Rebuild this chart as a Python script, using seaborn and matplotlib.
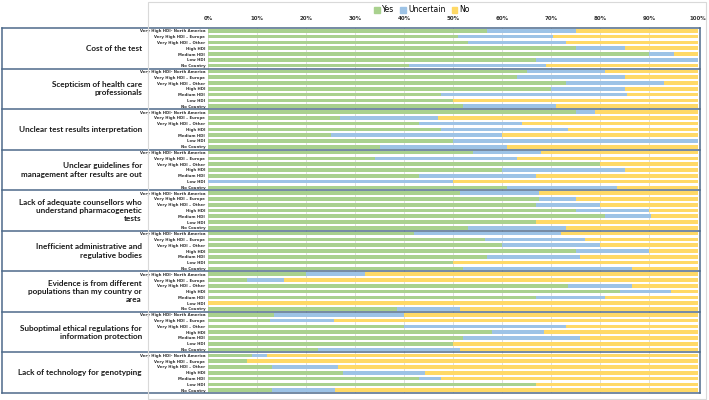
import numpy as np
import pandas as pd
import matplotlib
matplotlib.use('Agg')
import matplotlib.pyplot as plt
from matplotlib.patches import Patch, Rectangle
from matplotlib.ticker import PercentFormatter
from matplotlib.transforms import blended_transform_factory
import seaborn as sns

# barriers (groups) and region rows
groups = [
    "Cost of the test",
    "Scepticism of health care\nprofessionals",
    "Unclear test results interpretation",
    "Unclear guidelines for\nmanagement after results are out",
    "Lack of adequate counsellors who\nunderstand pharmacogenetic\ntests",
    "Inefficient administrative and\nregulative bodies",
    "Evidence is from different\npopulations than my country or\narea",
    "Suboptimal ethical regulations for\ninformation protection",
    "Lack of technology for genotyping",
]
regions = ["Very High HDI- North America", "Very High HDI \u2013 Europe", "Very High HDI \u2013 Other",
           "High HDI", "Medium HDI", "Low HDI", "No Country"]

# percentages per group, one value per region
yes_pct = [
    [57, 51, 53, 75, 90, 67, 41],
    [65, 63, 73, 70, 47.5, 50, 52],
    [75, 27, 43, 47.5, 25, 50, 35],
    [54, 34, 80, 60, 43, 0, 61],
    [51.5, 67.5, 67, 75, 81, 67, 53],
    [42, 56.5, 60, 75, 57, 50, 52],
    [20, 8, 73.5, 84, 67, 0, 38.5],
    [13.5, 12.7, 40, 58, 52, 50, 22.5],
    [9, 8, 13, 27.6, 43, 67, 13],
]
uncertain_pct = [
    [18, 19.5, 20, 10, 5, 33, 28],
    [16, 22, 20, 15, 38, 0, 19],
    [4, 20, 21, 26, 35, 50, 26],
    [14, 29, 0, 25, 24, 50, 22.5],
    [16, 7.5, 13, 15, 9.5, 0, 20],
    [30, 20.5, 20, 15, 19, 0, 34.5],
    [12, 7.5, 13, 10.5, 14, 0, 13],
    [26.5, 13, 33, 10.5, 24, 0, 29],
    [3, 0, 13.6, 16.7, 4.6, 0, 13],
]
no_pct = [
    [25, 29.5, 27, 15, 5, 0, 31],
    [19, 15, 7, 15, 14.5, 50, 29],
    [21, 53, 36, 26.5, 40, 0, 39],
    [32, 37, 20, 15, 33, 50, 16.5],
    [32.5, 25, 20, 10, 9.5, 33, 27],
    [28, 23, 20, 10, 24, 50, 13.5],
    [68, 84.5, 13.5, 5.5, 19, 100, 48.5],
    [60, 74.3, 27, 31.5, 24, 50, 48.5],
    [88, 92, 73.4, 55.7, 52.4, 33, 74],
]

colors = {"Yes": "#A9D18E", "Uncertain": "#9DC3E6", "No": "#FFD966"}
line_col = "#4E6A8A"

# long table, one row per bar
rows = []
for gi, g in enumerate(groups):
    for ri, r in enumerate(regions):
        rows.append({
            "row": f"{gi}_{ri}",
            "region": r,
            "yes": yes_pct[gi][ri],
            "uncertain": uncertain_pct[gi][ri],
            "no": no_pct[gi][ri],
        })
df = pd.DataFrame(rows)
df["cum_unc"] = df["yes"] + df["uncertain"]
df["cum_no"] = df["cum_unc"] + df["no"]
order = df["row"].tolist()

W, H = 709, 400
fig = plt.figure(figsize=(W / 100, H / 100), dpi=100)
ax = fig.add_axes([208 / W, 1 - 393 / H, 490 / W, 365 / H])

sns.barplot(data=df, x="cum_no", y="row", order=order, color=colors["No"],
            width=0.62, orient="h", ax=ax, saturation=1)
sns.barplot(data=df, x="cum_unc", y="row", order=order, color=colors["Uncertain"],
            width=0.62, orient="h", ax=ax, saturation=1)
sns.barplot(data=df, x="yes", y="row", order=order, color=colors["Yes"],
            width=0.62, orient="h", ax=ax, saturation=1)

ax.set_xlim(0, 100)
ax.set_ylim(len(order) - 0.5, -0.5)
ax.set_xticks(np.arange(0, 101, 10))
ax.xaxis.set_major_formatter(PercentFormatter(decimals=0))
ax.xaxis.tick_top()
ax.tick_params(axis="x", length=0, pad=5, labelsize=4, labelcolor="#333333")
for t in ax.get_xticklabels():
    t.set_fontweight("bold")
ax.set_yticks(range(len(order)))
ax.set_yticklabels(df["region"], fontsize=2.8, color="#333333", fontweight="bold")
ax.tick_params(axis="y", length=0, pad=2)
ax.set_xlabel("")
ax.set_ylabel("")
ax.grid(axis="x", color="#D9D9D9", lw=0.6)
ax.set_axisbelow(True)
for s in ax.spines.values():
    s.set_visible(False)

# table-like frame with group separators
trans = blended_transform_factory(ax.transAxes, ax.transData)
x0 = (2 - 208) / 490
x1 = (700 - 208) / 490
for k in range(len(groups) + 1):
    yb = k * len(regions) - 0.5
    ax.plot([x0, x1], [yb, yb], transform=trans, color=line_col, lw=1.1, clip_on=False)
ax.plot([x0, x0], [-0.5, len(order) - 0.5], transform=trans, color=line_col, lw=1.1, clip_on=False)
ax.plot([x1, x1], [-0.5, len(order) - 0.5], transform=trans, color=line_col, lw=1.1, clip_on=False)

# group labels, sized so the widest line fits the label column
label_texts = []
for gi, g in enumerate(groups):
    yc = gi * len(regions) + 3
    t = ax.text((142 - 208) / 490, yc, g, transform=trans, ha="right", va="center",
                fontsize=7, fontweight="bold", color="#1a1a1a", linespacing=1.2,
                family=["Liberation Sans Narrow", "Lato", "DejaVu Sans"])
    label_texts.append(t)
renderer = fig.canvas.get_renderer()
widest = max(t.get_window_extent(renderer).width for t in label_texts)
scale = min(1.0, 126 / widest)
for t in label_texts:
    t.set_fontsize(7 * scale)

# outer chart border
fig.patches.append(Rectangle((148 / W, 1 / H), 558 / W, 397 / H, transform=fig.transFigure,
                             fill=False, edgecolor="#D9D9D9", lw=0.8))

handles = [Patch(color=colors[k], label=k) for k in ["Yes", "Uncertain", "No"]]
fig.legend(handles=handles, loc="center", bbox_to_anchor=(422 / W, 1 - 10 / H), ncol=3,
           frameon=False, fontsize=5.5, handlelength=0.7, handleheight=0.7,
           handletextpad=0.3, columnspacing=0.8)

fig.savefig("out.png", dpi=100)
